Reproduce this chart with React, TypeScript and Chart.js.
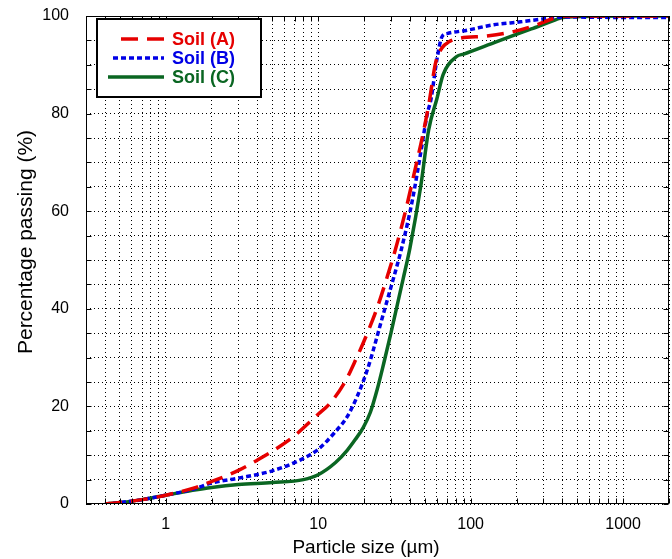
import React, { useEffect, useRef } from "react";
import { Chart, registerables } from "chart.js";

Chart.register(...registerables);

// ---- data ----
const soilALabel = "Soil (A)";
const soilAX = [0.4, 0.5, 0.7, 1, 1.5, 2, 3, 4, 5, 7, 10, 11.7, 14.8, 17.6, 21, 24.5, 28.4, 32, 37.5, 43.6, 48.3, 53.3, 59, 65, 72, 84, 128, 191, 272, 350, 420, 1000, 2000];
const soilAY = [0, 0.3, 0.9, 1.8, 3.2, 4.6, 6.9, 9.0, 10.8, 14.0, 18.4, 20.3, 24.7, 29.5, 35, 40.4, 46.6, 52, 60.2, 69.1, 75.3, 82.1, 90.5, 93.5, 94.7, 95.4, 95.9, 96.8, 98.2, 99.5, 100, 100, 100];

const soilBLabel = "Soil (B)";
const soilBX = [0.4, 0.5, 0.7, 1, 1.5, 2, 3, 5, 7.6, 10, 12.7, 15.5, 18, 21, 23.3, 25.7, 28.4, 31.4, 35, 41.5, 47, 52, 55, 60, 65, 70, 95, 142, 212, 318, 400, 1000, 2000];
const soilBY = [0, 0.3, 0.9, 1.8, 3.0, 4.3, 5.3, 6.8, 9.0, 11.2, 14.5, 17.9, 22, 27.5, 32.2, 37, 41.8, 46.6, 52, 62.3, 71.9, 80, 83, 91, 95.8, 96.4, 97.1, 98.2, 98.8, 99.5, 99.8, 99.7, 99.7];

const soilCLabel = "Soil (C)";
const soilCX = [0.4, 0.5, 0.7, 1, 1.5, 2, 3, 5, 8, 10, 13, 15.5, 17.5, 19.7, 22, 24.4, 27, 30, 36, 40, 47, 53, 60, 66, 81, 90, 150, 250, 360, 400, 1000, 2000];
const soilCY = [0, 0.3, 0.9, 1.8, 2.8, 3.4, 4.0, 4.4, 5.0, 6.0, 8.5, 11.0, 13.2, 15.6, 18.8, 23.5, 29, 35, 46, 52.5, 65, 76.6, 83, 88, 91.7, 92.2, 94.8, 97.35, 99.2, 99.7, 100, 100];

const xTickLabels = [1, 10, 100, 1000];
const xMin = 0.3;
const xMax = 2000;
const yTickLabels = [0, 20, 40, 60, 80, 100];
const yMin = 0;
const yMax = 100;
const yGridStep = 5;

const xTitle = "Particle size (µm)";
const yTitle = "Percentage passing (%)";

const FONT = "'Liberation Sans', Arial, Helvetica, sans-serif";
const RED = "#e60000";
const BLUE = "#0000e6";
const GREEN = "#0a6622";

function zip(xs: number[], ys: number[]) {
  return xs.map((x, i) => ({ x, y: ys[i] }));
}

// grid positions for the log axis: 1..9 in every decade inside [xMin, xMax]
function logGridValues(min: number, max: number): number[] {
  const out: number[] = [];
  for (let e = Math.floor(Math.log10(min)); e <= Math.ceil(Math.log10(max)); e++) {
    for (let m = 1; m <= 9; m++) {
      const v = Number((m * Math.pow(10, e)).toPrecision(3));
      if (v >= min - 1e-9 && v <= max + 1e-9) out.push(v);
    }
  }
  return out;
}

const frameAndLegend = {
  id: "frameAndLegend",
  afterDraw(chart: any) {
    const { ctx, chartArea: a, scales } = chart;
    const xs = scales.x;
    const ys = scales.y;
    ctx.save();
    // frame
    ctx.strokeStyle = "#000";
    ctx.lineWidth = 1;
    ctx.setLineDash([]);
    const L = Math.round(a.left) + 0.5;
    const R = Math.round(a.right) - 0.5;
    const T = Math.round(a.top) + 0.5;
    const B = Math.round(a.bottom) - 0.5;
    ctx.strokeRect(L, T, R - L, B - T);
    // inner tick marks
    const tl = 5;
    ctx.beginPath();
    for (const t of xs.ticks) {
      const px = Math.round(xs.getPixelForValue(t.value)) + 0.5;
      ctx.moveTo(px, B);
      ctx.lineTo(px, B - tl);
      ctx.moveTo(px, T);
      ctx.lineTo(px, T + tl);
    }
    for (let v = yMin; v <= yMax; v += yGridStep) {
      const py = Math.round(ys.getPixelForValue(v)) + 0.5;
      ctx.moveTo(L, py);
      ctx.lineTo(L + tl, py);
      ctx.moveTo(R, py);
      ctx.lineTo(R - tl, py);
    }
    ctx.stroke();

    // legend box
    const bx = a.left + 11;
    const by = a.top + 3;
    const bw = 164;
    const bh = 78;
    ctx.fillStyle = "#fff";
    ctx.fillRect(bx, by, bw, bh);
    ctx.lineWidth = 2;
    ctx.strokeRect(bx, by, bw, bh);
    const lineStarts = [24, 16, 11];
    const lineEnd = 67;
    ctx.font = `bold 18px ${FONT}`;
    ctx.textBaseline = "middle";
    ctx.textAlign = "left";
    chart.data.datasets.forEach((ds: any, i: number) => {
      const cy = by + 20 + i * 19;
      ctx.save();
      ctx.strokeStyle = ds.borderColor;
      ctx.lineWidth = ds.borderWidth;
      ctx.setLineDash(ds.borderDash || []);
      ctx.beginPath();
      ctx.moveTo(bx + lineStarts[i], cy);
      ctx.lineTo(bx + lineEnd, cy);
      ctx.stroke();
      ctx.restore();
      ctx.fillStyle = ds.borderColor;
      ctx.fillText(ds.label, bx + 75, cy + 1);
    });

    // axis titles
    ctx.fillStyle = "#000";
    ctx.textAlign = "center";
    ctx.textBaseline = "middle";
    ctx.font = `19px ${FONT}`;
    ctx.fillText(xTitle, a.left + 280, a.bottom + 44);
    ctx.save();
    ctx.translate(26, a.top + 226);
    ctx.rotate(-Math.PI / 2);
    ctx.font = `21px ${FONT}`;
    ctx.fillText(yTitle, 0, 0);
    ctx.restore();
    ctx.restore();
  },
};

export default function App() {
  const ref = useRef<HTMLCanvasElement | null>(null);
  useEffect(() => {
    if (!ref.current) return;
    const gridX = logGridValues(xMin, xMax);
    const chart = new Chart(ref.current, {
      type: "line",
      data: {
        datasets: [
          {
            label: soilALabel,
            data: zip(soilAX, soilAY),
            borderColor: RED,
            borderWidth: 3.5,
            borderDash: [17, 9],
            pointRadius: 0,
            cubicInterpolationMode: "monotone",
            fill: false,
          },
          {
            label: soilBLabel,
            data: zip(soilBX, soilBY),
            borderColor: BLUE,
            borderWidth: 3.5,
            borderDash: [5, 3],
            pointRadius: 0,
            cubicInterpolationMode: "monotone",
            fill: false,
          },
          {
            label: soilCLabel,
            data: zip(soilCX, soilCY),
            borderColor: GREEN,
            borderWidth: 3.5,
            pointRadius: 0,
            cubicInterpolationMode: "monotone",
            fill: false,
          },
        ] as any,
      },
      options: {
        animation: false,
        responsive: false,
        devicePixelRatio: 1,
        layout: { padding: { left: 0, right: 3, top: 16, bottom: 0 } },
        plugins: {
          legend: { display: false },
          tooltip: { enabled: false },
        },
        scales: {
          x: {
            type: "logarithmic",
            min: xMin,
            max: xMax,
            afterBuildTicks: (s: any) => {
              s.ticks = gridX.map((v) => ({ value: v }));
            },
            afterFit: (s: any) => {
              s.height = 55;
              s.paddingLeft = 0;
              s.paddingRight = 0;
            },
            grid: { color: "#000", lineWidth: 1, drawTicks: false },
            border: { display: false, dash: [1, 3] },
            ticks: {
              autoSkip: false,
              maxRotation: 0,
              minRotation: 0,
              padding: 11,
              color: "#000",
              font: { family: FONT, size: 16 },
              callback: (v: any) => (xTickLabels.includes(Number(v)) ? String(v) : ""),
            },
          },
          y: {
            type: "linear",
            min: yMin,
            max: yMax,
            afterFit: (s: any) => {
              s.width = 86;
              s.paddingTop = 0;
              s.paddingBottom = 0;
            },
            grid: { color: "#000", lineWidth: 1, drawTicks: false },
            border: { display: false, dash: [1, 3] },
            ticks: {
              stepSize: yGridStep,
              autoSkip: false,
              padding: 17,
              color: "#000",
              font: { family: FONT, size: 16 },
              callback: (v: any) => (yTickLabels.includes(Number(v)) ? String(v) : ""),
            },
          },
        },
      } as any,
      plugins: [frameAndLegend],
    });
    return () => chart.destroy();
  }, []);
  return (
    <div style={{ position: "fixed", left: 0, top: 0, width: 672, height: 559, background: "#fff" }}>
      <canvas ref={ref} width={672} height={559} style={{ display: "block" }} />
    </div>
  );
}
